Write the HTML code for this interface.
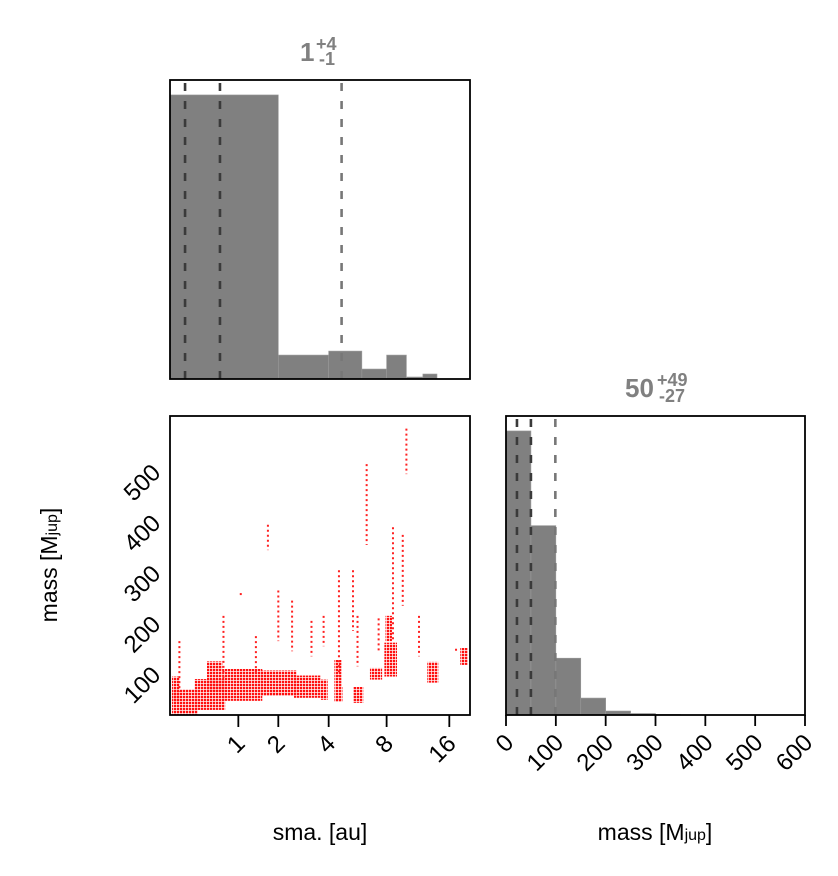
<!DOCTYPE html>
<html><head><meta charset="utf-8"><style>
html,body{margin:0;padding:0;background:#fff}
svg{display:block;font-family:"Liberation Sans",sans-serif}
</style></head><body>
<svg id="c" width="838" height="876" viewBox="0 0 838 876">
<defs>
<pattern id="speck" width="3" height="3" patternUnits="userSpaceOnUse"><rect x="0" y="0" width="2.3" height="2.3" fill="#ff1010"/></pattern>
</defs>
</svg>
<script>
// ---- data ----
const smaBinEdges = [0,2,4,6,8,10,12,14];
const smaBinCounts = [285,24,28,10,24,2,5];
const smaQuantiles = [0.165,0.66,4.7];
const massBinEdges = [0,50,100,150,200,250,300,350];
const massBinCounts = [285,190,57,17,4,1.5,0.6];
const massQuantiles = [22,50,99];
const smaTicks = [1,2,4,8,16];
const massTicksY = [100,200,300,400,500];
const massTicksX = [0,100,200,300,400,500,600];
// scatter dense clusters: sma range, mass range
const blobSmaLo = [0.02,0.28,0.7,1.5,2.5,3.6,4.3,5.4,6.6,7.8,12.6,18.0,4.3,7.9,0.02,0.45];
const blobSmaHi = [0.32,0.75,1.55,2.6,3.6,3.95,4.75,6.1,7.6,9.0,14.2,19.5,4.7,8.5,0.1,0.7];
const blobMassLo= [5,14,32,42,38,34,30,28,74,80,68,103,60,150,30,50];
const blobMassHi= [55,75,95,92,82,74,60,60,97,147,109,137,113,200,80,110];
// sparse vertical streaks: sma, mass range
const streakSma = [0.1,0.72,1.39,1.7,2.0,2.45,3.2,3.75,4.55,5.4,5.7,6.35,7.3,8.6,9.6,10.0,11.5,17.2,1.05];
const streakLo  = [50,70,85,330,150,130,120,140,80,170,100,340,130,150,220,480,120,125,238];
const streakHi  = [150,200,160,380,250,230,190,200,290,290,200,500,195,375,360,570,200,135,245];

const NS="http://www.w3.org/2000/svg";
const svg=document.getElementById('c');
function mk(tag,attrs,parent){const e=document.createElementNS(NS,tag);for(const k in attrs)e.setAttribute(k,attrs[k]);(parent||svg).appendChild(e);return e;}

const L=170,R=470,XR0=506,XR1=805;
const uMax=3.043;
const xs = s => L + Math.log(1+s)/uMax*(R-L);
const ys = m => 715 - (m-4)/(595-4)*(715-416);
const xm = m => XR0 + m/600*(XR1-XR0);
const hTopY = c => 379 - c/300*(379-80);
const hRY = c => 715 - c/300*(715-416);

// ---- top histogram ----
const g1=mk('g',{});


smaBinCounts.forEach((c,i)=>{
  const r=mk('rect',{x:xs(smaBinEdges[i]),y:hTopY(c),width:xs(smaBinEdges[i+1])-xs(smaBinEdges[i]),height:379-hTopY(c),fill:'#808080',stroke:'#9a9a9a','stroke-width':0.6},g1);
  
  
});
smaQuantiles.forEach((q,i)=>{
  const l=mk('line',{x1:xs(q),x2:xs(q),y1:83,y2:379,stroke:i<2?'#3a3a3a':'#777','stroke-width':2.6,'stroke-dasharray':'8 10'},g1);
  
  
});
mk('rect',{x:170,y:80,width:300,height:299,fill:'none',stroke:'#000','stroke-width':1.8});

// ---- scatter ----
const g2=mk('g',{});


blobSmaLo.forEach((a,i)=>{
  const x1=xs(a),x2=xs(blobSmaHi[i]),y1=ys(blobMassHi[i]),y2=ys(blobMassLo[i]);
  const e=mk('rect',{x:x1,y:y1,width:Math.max(x2-x1,3),height:y2-y1,fill:'url(#speck)'},g2);
  
  
});
streakSma.forEach((s,i)=>{
  const l=mk('line',{x1:xs(s),x2:xs(s),y1:ys(streakHi[i]),y2:ys(streakLo[i]),stroke:'#ff2020','stroke-width':2,'stroke-dasharray':'2 3'},g2);
  
  
});
mk('rect',{x:170,y:416,width:300,height:299,fill:'none',stroke:'#000','stroke-width':1.8});
smaTicks.forEach(t=>{
  const x=xs(t);
  mk('line',{x1:x,x2:x,y1:715,y2:727,stroke:'#000','stroke-width':1.8});
  const tx=mk('text',{x:x+8,y:745,'font-size':24,'text-anchor':'end',transform:`rotate(-45 ${x+8} 745)`});
  tx.textContent=t;
  
  
});
massTicksY.forEach(t=>{
  const y=ys(t);
  const tx=mk('text',{x:162,y:y+10,'font-size':24,'text-anchor':'end',transform:`rotate(-45 162 ${y+10})`});
  tx.textContent=t;
  
  
});

// ---- right histogram ----
const g3=mk('g',{});


massBinCounts.forEach((c,i)=>{
  const r=mk('rect',{x:xm(massBinEdges[i]),y:hRY(c),width:xm(massBinEdges[i+1])-xm(massBinEdges[i]),height:715-hRY(c),fill:'#808080',stroke:'#9a9a9a','stroke-width':0.6},g3);
  
  
});
massQuantiles.forEach((q,i)=>{
  const l=mk('line',{x1:xm(q),x2:xm(q),y1:419,y2:715,stroke:i<2?'#3a3a3a':'#777','stroke-width':2.6,'stroke-dasharray':'8 10'},g3);
  
  
});
mk('rect',{x:506,y:416,width:299,height:299,fill:'none',stroke:'#000','stroke-width':1.8});
massTicksX.forEach(t=>{
  const x=xm(t);
  mk('line',{x1:x,x2:x,y1:715,y2:726,stroke:'#000','stroke-width':1.8});
  const tx=mk('text',{x:x+9,y:744,'font-size':24,'text-anchor':'end',transform:`rotate(-45 ${x+9} 744)`});
  tx.textContent=t;
  
  
});
</script>
<svg width="838" height="876" style="position:absolute;left:0;top:0">
  <g font-family="Liberation Sans, sans-serif" fill="#808080" font-weight="bold">
    <text x="300" y="61" font-size="26">1</text>
    <text x="316" y="50" font-size="18">+4</text>
    <text x="319" y="65" font-size="18">-1</text>
  </g>
  <g font-family="Liberation Sans, sans-serif" fill="#808080" font-weight="bold">
    <text x="625" y="397" font-size="26">50</text>
    <text x="657" y="386" font-size="18">+49</text>
    <text x="659" y="402" font-size="18">-27</text>
  </g>
  <text x="320" y="840" font-size="23" text-anchor="middle" font-family="Liberation Sans, sans-serif">sma. [au]</text>
  <text x="655" y="840" font-size="23" text-anchor="middle" font-family="Liberation Sans, sans-serif">mass [M<tspan font-size="16">jup</tspan>]</text>
  <text x="0" y="0" font-size="23" text-anchor="middle" font-family="Liberation Sans, sans-serif" transform="translate(57 565) rotate(-90)">mass [M<tspan font-size="16">jup</tspan>]</text>
</svg>
</body></html>
